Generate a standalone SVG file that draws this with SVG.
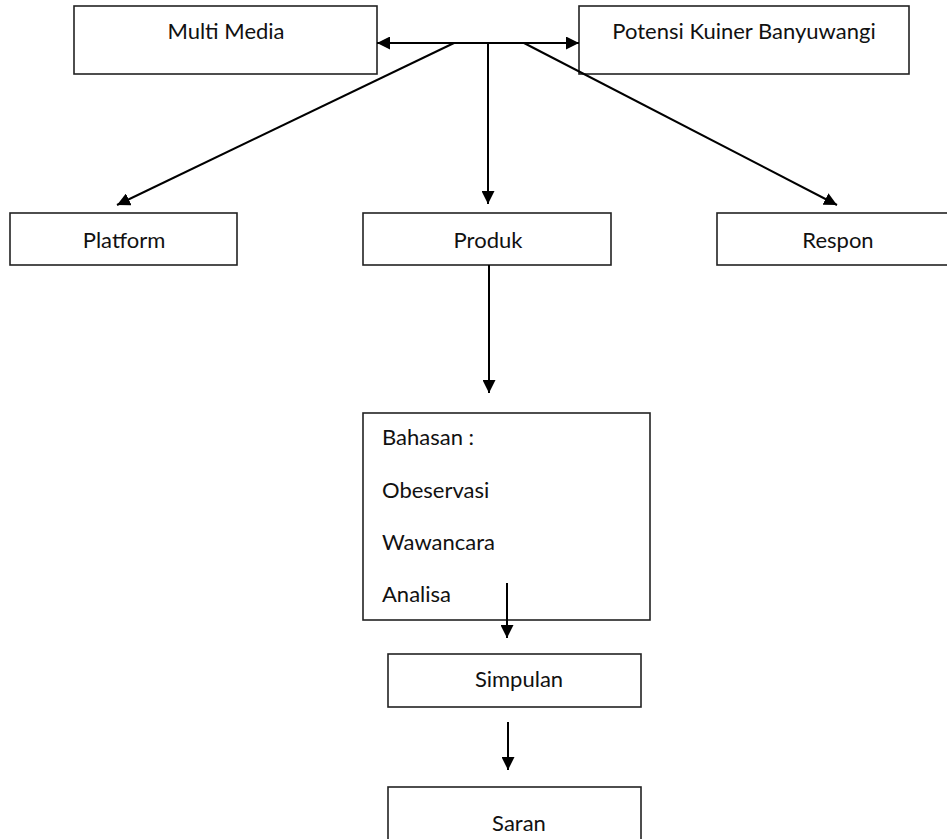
<svg xmlns="http://www.w3.org/2000/svg" width="947" height="839" viewBox="0 0 947 839">
<style>
.box{fill:#fff;stroke:#222;stroke-width:1.6}
.lbl{font-family:Lato,"Open Sans",sans-serif;font-size:22px;fill:#111}
.mid{text-anchor:middle}
.con{stroke:#000;stroke-width:2;fill:none}
</style>
<defs>
<marker id="ah" markerUnits="userSpaceOnUse" markerWidth="13" markerHeight="13" viewBox="0 0 13 13" refX="13" refY="6.5" orient="auto-start-reverse">
<path d="M0,0 L13,6.5 L0,13 z" fill="#000"/>
</marker>
</defs>
<rect width="947" height="839" fill="#fff"/>
<g id="multimedia"><rect class="box" x="74" y="6" width="303" height="68"/><text class="lbl mid" x="226" y="39">Multi Media</text></g>
<g id="potensi"><rect class="box" x="579" y="6" width="330" height="68"/><text class="lbl mid" x="744" y="39">Potensi Kuiner Banyuwangi</text></g>
<g id="platform"><rect class="box" x="10" y="213" width="227" height="52"/><text class="lbl mid" x="124" y="248">Platform</text></g>
<g id="produk"><rect class="box" x="363" y="213" width="248" height="52"/><text class="lbl mid" x="488" y="248">Produk</text></g>
<g id="respon"><rect class="box" x="717" y="213" width="245" height="52"/><text class="lbl mid" x="838" y="248">Respon</text></g>
<g id="bahasan"><rect class="box" x="363" y="413" width="287" height="207"/>
<text class="lbl" x="382" y="445">Bahasan :</text>
<text class="lbl" x="382" y="498">Obeservasi</text>
<text class="lbl" x="382" y="550">Wawancara</text>
<text class="lbl" x="382" y="602">Analisa</text></g>
<g id="simpulan"><rect class="box" x="388" y="654" width="253" height="53"/><text class="lbl mid" x="519" y="687">Simpulan</text></g>
<g id="saran"><rect class="box" x="388" y="787" width="253" height="70"/><text class="lbl mid" x="519" y="831">Saran</text></g>
<g id="connectors">
<line class="con" x1="377" y1="43" x2="579" y2="43" marker-start="url(#ah)" marker-end="url(#ah)"/>
<line class="con" x1="454" y1="43" x2="117" y2="205" marker-end="url(#ah)"/>
<line class="con" x1="488" y1="43" x2="488" y2="204" marker-end="url(#ah)"/>
<line class="con" x1="524" y1="43" x2="837" y2="205" marker-end="url(#ah)"/>
<line class="con" x1="489" y1="265" x2="489" y2="393" marker-end="url(#ah)"/>
<line class="con" x1="507" y1="583" x2="507" y2="638" marker-end="url(#ah)"/>
<line class="con" x1="508" y1="722" x2="508" y2="770" marker-end="url(#ah)"/>
</g>
</svg>
